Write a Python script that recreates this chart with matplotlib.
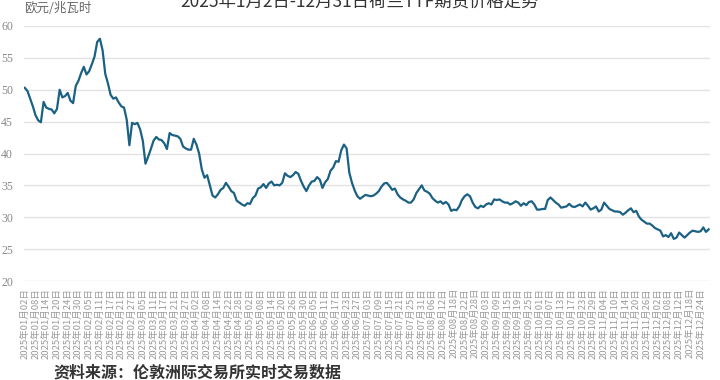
import matplotlib
matplotlib.use("Agg")
import matplotlib.pyplot as plt
import pandas as pd

plt.rcParams['font.family'] = ['Noto Sans CJK SC', 'DejaVu Sans']

title = "2025年1月2日-12月31日荷兰TTF期货价格走势"
unit_label = "欧元/兆瓦时"
source = "资料来源：伦敦洲际交易所实时交易数据"

holidays = ["2025-01-01", "2025-04-18", "2025-04-21", "2025-12-25", "2025-12-26"]
dates = [d for d in pd.bdate_range("2025-01-02", "2025-12-31") if d.strftime("%Y-%m-%d") not in holidays]

prices = [
    50.3, 49.8, 48.6, 47.4, 46.0, 45.2, 44.9, 48.1, 47.2, 47.0,
    46.9, 46.3, 47.0, 50.0, 48.8, 49.0, 49.5, 48.3, 47.9, 50.6,
    51.4, 52.6, 53.6, 52.4, 52.9, 54.0, 55.2, 57.5, 58.0, 56.2,
    52.5, 51.0, 49.2, 48.6, 48.8, 48.0, 47.4, 47.2, 45.3, 41.3,
    44.8, 44.6, 44.8, 43.8, 42.0, 38.4, 39.5, 40.7, 42.0, 42.6,
    42.2, 42.1, 41.6, 40.7, 43.2, 42.9, 42.8, 42.7, 42.3, 41.1,
    40.8, 40.6, 40.6, 42.3, 41.4, 40.0, 37.5, 36.2, 36.6, 35.0,
    33.4, 33.1, 33.6, 34.3, 34.6, 35.4, 34.8, 34.1, 33.8, 32.6,
    32.3, 32.0, 31.8, 32.2, 32.1, 33.0, 33.4, 34.5, 34.7, 35.2,
    34.6, 35.3, 35.6, 35.0, 35.1, 35.0, 35.4, 36.9, 36.5, 36.3,
    36.6, 37.1, 36.8, 35.7, 34.8, 34.1, 35.0, 35.6, 35.7, 36.3,
    35.9, 34.6, 35.5, 36.0, 37.3, 37.8, 38.8, 38.7, 40.5, 41.4,
    40.8, 37.0, 35.4, 34.2, 33.3, 32.9, 33.2, 33.5, 33.4, 33.3,
    33.4, 33.7, 34.1, 34.8, 35.3, 35.4, 34.9, 34.3, 34.5, 33.6,
    33.1, 32.8, 32.6, 32.3, 32.3, 32.8, 33.8, 34.4, 35.0, 34.2,
    34.0, 33.7, 33.0, 32.6, 32.3, 32.5, 32.1, 32.4, 32.0, 31.0,
    31.2, 31.1, 31.7, 32.7, 33.3, 33.6, 33.3, 32.3, 31.6, 31.4,
    31.8, 31.6, 32.0, 32.2, 32.0, 32.8, 32.7, 32.8, 32.5, 32.3,
    32.3, 32.0, 32.2, 32.5, 32.3, 31.8, 32.2, 31.9, 32.4, 32.5,
    32.0, 31.2, 31.2, 31.3, 31.3, 32.7, 33.1, 32.7, 32.3, 32.0,
    31.5, 31.6, 31.7, 32.1, 31.7, 31.6, 31.8, 32.0, 31.7, 32.3,
    31.8, 31.2, 31.4, 31.7, 30.9, 31.2, 32.3, 31.8, 31.3, 31.1,
    30.9, 30.9, 30.8, 30.4, 30.7, 31.1, 31.4, 30.8, 31.0, 30.1,
    29.6, 29.3, 29.0, 29.0, 28.7, 28.3, 28.1, 27.9, 27.0, 27.2,
    26.9, 27.5, 26.6, 26.8, 27.6, 27.2, 26.8, 27.2, 27.6, 27.9,
    27.8, 27.7, 27.8, 28.4, 27.7, 28.1,
]

yticks = [20, 25, 30, 35, 40, 45, 50, 55, 60]
tick_step = 4

fig = plt.figure(figsize=(7.2, 3.8), dpi=100)
ax = fig.add_axes([24/720, 1 - 281/380, 686/720, 255/380])

x = list(range(len(prices)))
ax.plot(x, prices[:len(x)], color="#1b6184", linewidth=1.6, solid_joinstyle="round")

ax.set_ylim(20, 60)
ax.set_xlim(-0.3, len(x) - 0.5)
ax.set_yticks(yticks)
ax.yaxis.grid(True, color="#e3e3e3", linewidth=1.0)
ax.set_axisbelow(True)
for s in ax.spines.values():
    s.set_visible(False)

ax.tick_params(axis="y", length=0, pad=8, labelsize=8.5, labelcolor="#888888")
for lab in ax.get_yticklabels():
    lab.set_fontfamily(["Liberation Serif", "DejaVu Serif"])

pos = list(range(0, len(dates), tick_step))
labels = [dates[i].strftime("%Y年%m月%d日") for i in pos]
ax.set_xticks(pos)
ax.set_xticklabels(labels, rotation=90, fontsize=6.8, color="#9a9a9a")
ax.tick_params(axis="x", length=0, pad=5)

fig.text(24/720, 1 - 9/380, unit_label, fontsize=9, color="#666666",
         ha="left", va="center")
fig.text(0.5, 1 - 1.5/380, title, fontsize=12.5, color="#333333",
         ha="center", va="center")
fig.text(53/720, 1 - 372/380, source, fontsize=11.5, color="#333333",
         ha="left", va="center", fontweight="bold")

fig.savefig("out.png", dpi=100)
